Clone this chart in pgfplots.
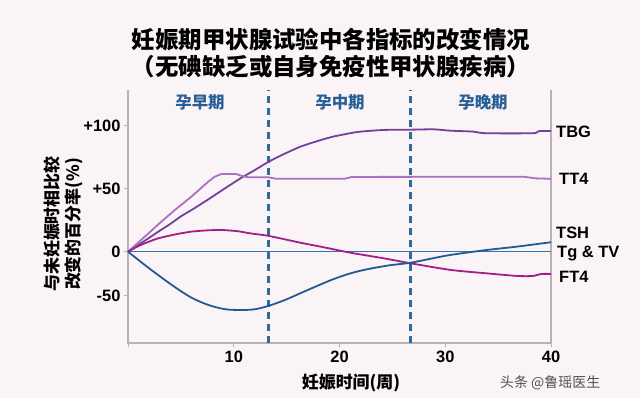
\documentclass[border=0pt]{standalone}
\usepackage{pgfplots}
\pgfplotsset{compat=1.18}
\usepackage{fontspec}
\setmainfont{Liberation Sans}
\newfontfamily\cjk{Noto Sans CJK SC}
\definecolor{bgc}{RGB}{250,244,247}
\definecolor{tbgc}{RGB}{115,65,155}
\definecolor{tt4c}{RGB}{172,112,190}
\definecolor{ft4c}{RGB}{165,30,135}
\definecolor{tshc}{RGB}{35,90,150}
\definecolor{tgc}{RGB}{50,115,180}
\definecolor{dashc}{RGB}{40,110,150}
\definecolor{phasec}{RGB}{40,95,150}
\definecolor{axc}{RGB}{180,180,180}
\begin{document}
\begin{tikzpicture}[x=1bp,y=1bp]
\fill[bgc] (0,0) rectangle (640,398);
\begin{axis}[
  scale only axis,
  width=423bp, height=253bp,
  at={(128bp,55bp)}, anchor=south west,
  xmin=0, xmax=40, ymin=-72.5, ymax=128.3,
  axis line style={draw=none},
  tick pos=left,
  tick align=outside,
  major tick length=4bp,
  tick style={axc, line width=1bp},
  xtick={0,10,20,30,40}, xticklabels={,10,20,30,40},
  ytick={-35,0,50,100}, yticklabels={-50,0,+50,+100},
  /pgf/number format/assume math mode=true,
  ticklabel style={font=\bfseries\fontsize{16.5}{16.5}\selectfont},
  clip=false,
]
\draw[axc, line width=1.2bp] (rel axis cs:0,1) -- (rel axis cs:0,0) -- (rel axis cs:1,0) -- (rel axis cs:1,1);
% phase dividers
\addplot[dashc, line width=2.6bp, dash pattern=on 7bp off 5bp] coordinates {(13.3,-72.5) (13.3,128.3)};
\addplot[dashc, line width=2.6bp, dash pattern=on 7bp off 5bp] coordinates {(26.7,-72.5) (26.7,128.3)};
% Tg & TV
\addplot[tgc, line width=1.2bp] coordinates {(0,0) (40,0)};
% TBG
\addplot[tbgc, line width=1.8bp, smooth, tension=0.4] coordinates {
(0,0) (1,5.5) (2,11) (2.87,15.9) (4,22) (5,28) (6,33) (7.5,41) (9.18,50.3) (10.6,58) (12,64.8) (13.3,71.4) (14.5,76.5) (16.3,83.3) (18,88) (19.4,91.3) (21,94) (21.9,95.2) (24.2,96.6) (26.7,96.8) (28.9,97.1) (30.5,96) (32.6,95.3) (33.8,94) (38.3,94) (38.8,95.6) (40,95.8)};
% TT4
\addplot[tt4c, line width=1.8bp] coordinates {
(0,0) (1,7.5) (2,15) (2.87,21.7) (4.42,33) (6,43.7) (7.6,55.6) (8.2,59.5) (8.86,61.7) (10.2,61.7) (10.8,60) (11.4,59) (13.3,59) (14,57.9) (20.5,57.9) (21.2,59.3) (37.4,59.5) (38.5,58.2) (40,57.8)};
% FT4
\addplot[ft4c, line width=1.8bp, smooth, tension=0.4] coordinates {
(0,0) (1,4.5) (2,8) (2.87,10.6) (4.4,13.6) (6,15.9) (7.5,16.9) (8.86,17.2) (10.4,16.2) (11.5,14.6) (13.3,12.5) (16.3,7.1) (18.5,3.5) (21,-0.8) (24.2,-5.3) (26.7,-9.2) (30.5,-14.5) (33.9,-17.2) (36.8,-19.3) (38.3,-19.3) (39.1,-17.7) (40,-17.7)};
% TSH
\addplot[tshc, line width=1.8bp, smooth, tension=0.5] coordinates {
(0,0) (1.5,-10) (3,-19.5) (4.5,-28.5) (6,-36.5) (7.6,-42.3) (9.2,-45.7) (10.75,-46.3) (12,-45.7) (13.3,-43) (14.8,-38.5) (16.3,-33) (17.8,-27.5) (19.4,-21.9) (21,-17.3) (22.6,-14) (24.6,-11) (26.7,-8.8) (28.5,-5.8) (30.5,-2.6) (33.9,1.3) (36.8,4) (40,7.5)};
\end{axis}
% titles and labels
\node[font=\cjk\bfseries\fontsize{23.5}{23.5}\selectfont] at (331,358) {妊娠期甲状腺试验中各指标的改变情况};
\node[font=\cjk\bfseries\fontsize{23.5}{23.5}\selectfont] at (331,331) {（无碘缺乏或自身免疫性甲状腺疾病）};
\node[font=\cjk\bfseries\fontsize{17}{21}\selectfont, rotate=90, align=center] at (63.5,174) {与未妊娠时相比较\\改变的百分率(\%)};
\node[font=\cjk\bfseries\fontsize{17}{17}\selectfont] at (351,15) {妊娠时间(周)};
\node[font=\cjk\bfseries\fontsize{16.5}{16.5}\selectfont, text=phasec] at (200,296) {孕早期};
\node[font=\cjk\bfseries\fontsize{16.5}{16.5}\selectfont, text=phasec] at (340,296) {孕中期};
\node[font=\cjk\bfseries\fontsize{16.5}{16.5}\selectfont, text=phasec] at (483,296) {孕晚期};
\begin{scope}[every node/.style={anchor=west, inner sep=0pt, font=\bfseries\fontsize{16.5}{16.5}\selectfont}]
\node at (556,266) {TBG};
\node at (559,219) {TT4};
\node at (556,165) {TSH};
\node at (557,144) {Tg \& TV};
\node at (559,121) {FT4};
\end{scope}
\node[anchor=west, inner sep=0pt, text={rgb,255:red,80;green,80;blue,80}, font=\cjk\fontsize{14}{14}\selectfont] at (500,15) {头条 @鲁瑶医生};
\pgfresetboundingbox
\useasboundingbox (0,0) rectangle (640,398);
\end{tikzpicture}
\end{document}
